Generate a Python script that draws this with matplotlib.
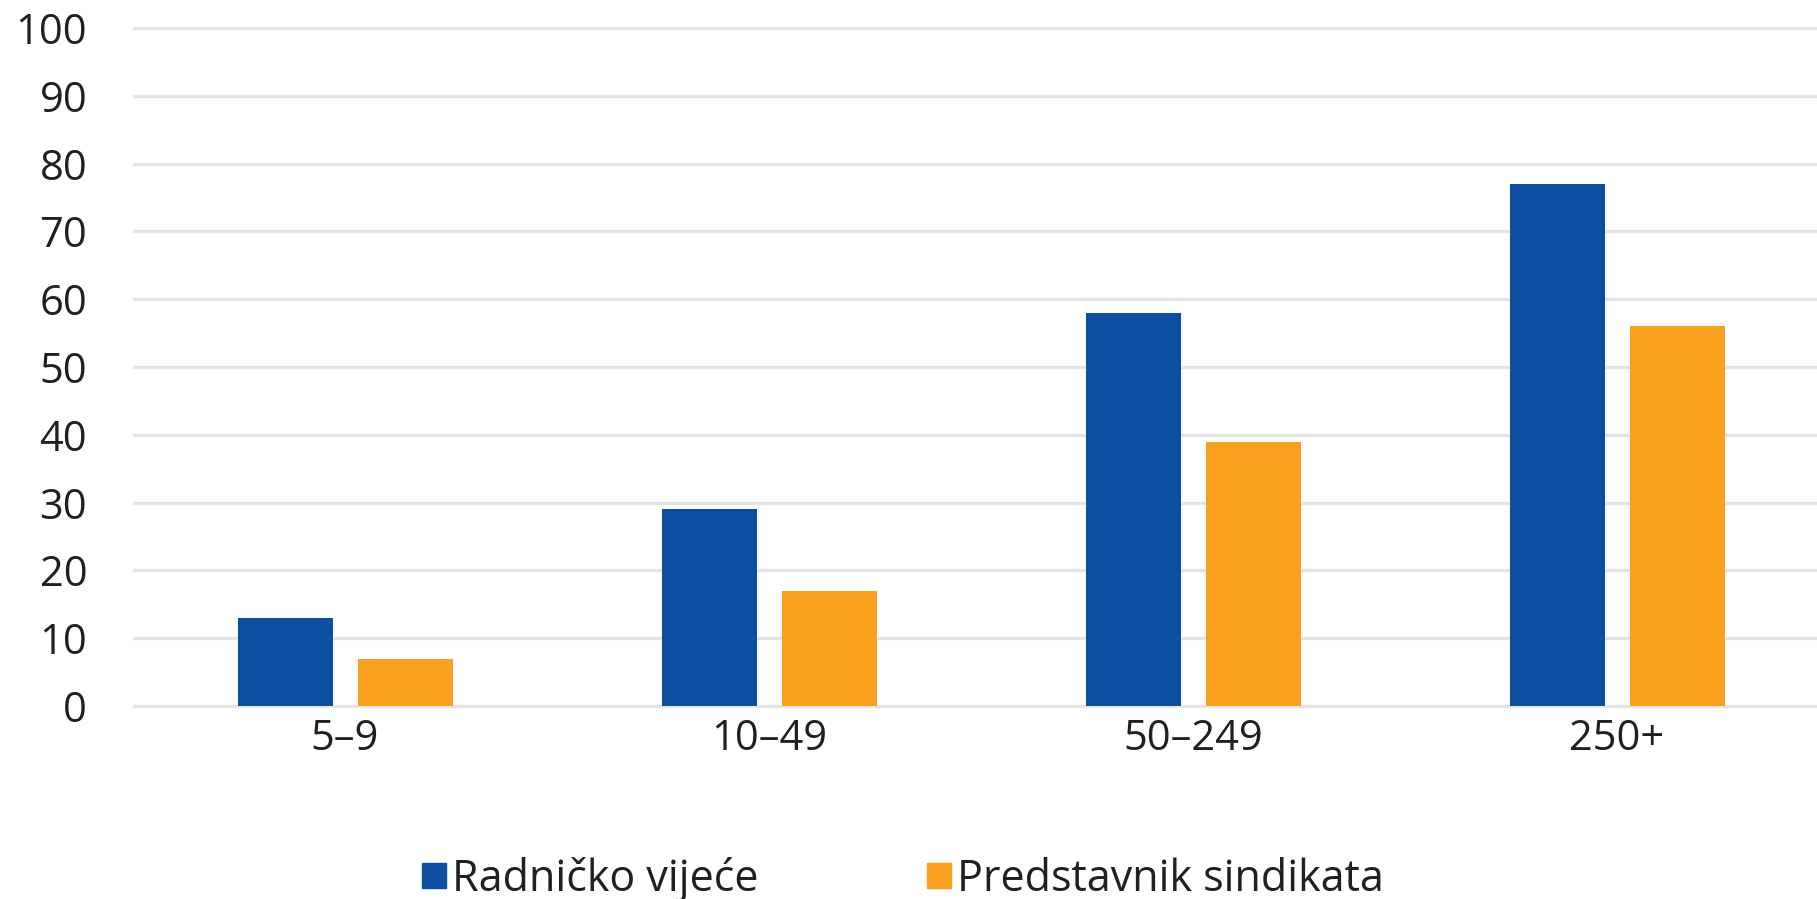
import numpy as np
import matplotlib
matplotlib.use("Agg")
from matplotlib import pyplot as plt
from matplotlib.patches import Patch

# --- Data
categories = ["5–9", "10–49", "50–249", "250+"]
radnicko = [13, 29, 58, 77]
sindikat = [7, 17, 39, 56]
series_names = ["Radničko vijeće", "Predstavnik sindikata"]
yticks = list(range(0, 101, 10))

blue = "#0d4ea1"
orange = "#f9a11e"
txt = "#231f20"

plt.rcParams['font.family'] = ['Open Sans', 'DejaVu Sans']

fig = plt.figure(figsize=(18.17, 8.99), dpi=100)
ax = fig.add_axes([0.0732, 0.2071, 0.9334, 0.7693])

x = np.arange(len(categories))
w = 0.224
ax.bar(x - 0.141, radnicko, w, color=blue, zorder=3)
ax.bar(x + 0.143, sindikat, w, color=orange, zorder=3)

ax.set_xlim(-0.5, 3.5)
ax.set_ylim(-1, 101)
ax.set_yticks(yticks)
ax.set_xticks(x)
ax.set_xticklabels(categories)

ax.grid(axis='y', color='#e4e4e4', lw=2.4)
ax.set_axisbelow(True)
for s in ax.spines.values():
    s.set_visible(False)
ax.tick_params(axis='both', length=0, labelsize=30, labelcolor=txt)
ax.tick_params(axis='y', pad=33)
ax.tick_params(axis='x', pad=4)

# --- Legend
handles = [Patch(color=blue), Patch(color=orange)]
fig.legend(handles, series_names, loc='center', bbox_to_anchor=(0.497, 0.022),
           ncol=2, frameon=False, fontsize=31, labelcolor=txt,
           handlelength=0.55, handleheight=0.55, handletextpad=0.15,
           columnspacing=3.9, borderaxespad=0)

fig.savefig("out.png", dpi=100)
